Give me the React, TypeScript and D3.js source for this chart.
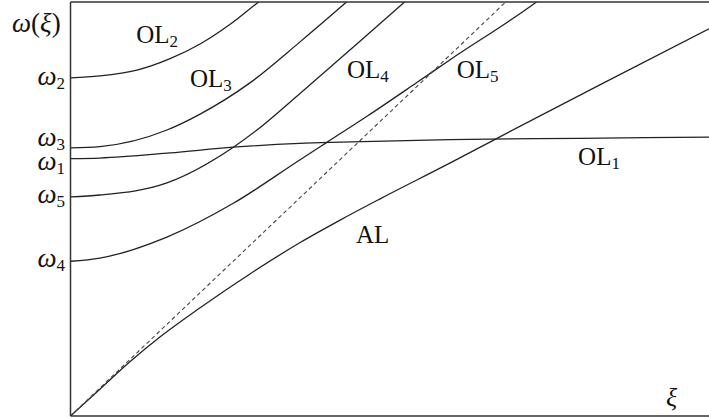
import React from 'react'
import * as d3 from 'd3'

// dispersion branches as [xi, omega]
const OL1 = [[0, 4.04], [0.46, 4.05], [1.56, 4.13], [2.55, 4.22], [3.59, 4.28], [4.23, 4.30], [5.94, 4.34], [7.98, 4.36], [10, 4.38]]
const OL2 = [[0, 5.31], [0.46, 5.34], [1.04, 5.43], [1.56, 5.61], [2.03, 5.84], [2.50, 6.15], [2.92, 6.48], [3.20, 6.69]]
const OL3 = [[0, 4.21], [0.46, 4.23], [1.51, 4.49], [2.03, 4.74], [2.81, 5.23], [3.59, 5.87], [4.30, 6.48], [4.54, 6.69]]
const OL4 = [[0, 2.43], [0.46, 2.48], [1.51, 2.81], [2.55, 3.34], [3.59, 4.02], [4.02, 4.30], [4.65, 4.71], [5.43, 5.24], [5.94, 5.59], [7.27, 6.48], [7.51, 6.66]]
const OL5 = [[0, 3.44], [0.46, 3.47], [1.51, 3.66], [2.55, 4.22], [2.92, 4.49], [3.59, 5.06], [4.38, 5.75], [5.21, 6.48], [5.48, 6.72]]
const AL = [[0, 0], [0.46, 0.42], [0.93, 0.85], [1.40, 1.24], [2.03, 1.70], [2.81, 2.23], [3.59, 2.72], [4.23, 3.08], [4.85, 3.41], [5.94, 3.97], [6.68, 4.36], [8.29, 5.20], [10, 6.08]]
const asymptote = [[0, 0], [6.9, 6.58]]

const solidCurves = [OL1, OL2, OL3, OL4, OL5, AL]

// cut-off frequencies on the left axis
const cutoffValues = [5.31, 4.21, 4.04, 3.44, 2.43]
const cutoffNames = ['2', '3', '1', '5', '4']
const cutoffShift = [7, -2, 11, 6, 6]

// curve labels: [xi, omega], name, subscript
const labelPos = [[1.03, 5.86], [1.87, 5.17], [4.33, 5.31], [6.05, 5.31], [7.95, 3.94], [4.47, 2.72]]
const labelNames = ['OL', 'OL', 'OL', 'OL', 'OL', 'AL']
const labelSubs = ['2', '3', '4', '5', '1', '']

const width = 709
const height = 418

export default function App() {
    const x = d3.scaleLinear().domain([0, 10]).range([70.5, 709])
    const y = d3.scaleLinear().domain([0, 6.5]).range([416, 2])

    const line = d3.line<number[]>()
        .x(d => x(d[0]))
        .y(d => y(d[1]))
        .curve(d3.curveMonotoneX)

    const [x0, x1] = x.range()
    const [y0, y1] = y.range()
    const font = '"Liberation Serif", "Times New Roman", serif'

    return (
        <svg width={width} height={height} style={{ position: 'absolute', left: 0, top: 0, background: '#fff' }}>
            <defs>
                <clipPath id="plot">
                    <rect x={x0} y={y1} width={x1 - x0} height={y0 - y1} />
                </clipPath>
            </defs>

            <g clipPath="url(#plot)" fill="none">
                {solidCurves.map((c, i) => (
                    <path key={i} d={line(c) || ''} stroke="#222" strokeWidth={1.3} />
                ))}
                <path d={d3.line<number[]>().x(d => x(d[0])).y(d => y(d[1]))(asymptote) || ''}
                    stroke="#444" strokeWidth={1.1} strokeDasharray="4,3" />
            </g>

            {/* frame: left, top, bottom */}
            <line x1={x0} x2={x0} y1={y1} y2={y0} stroke="#333" strokeWidth={1.5} />
            <line x1={x0} x2={x1} y1={y1} y2={y1} stroke="#333" strokeWidth={1.5} />
            <line x1={x0} x2={x1} y1={y0} y2={y0} stroke="#333" strokeWidth={1.5} />

            <g fontFamily={font} fill="#111">
                {cutoffValues.map((v, i) => (
                    <text key={i} x={65} y={y(v) + cutoffShift[i]} fontSize={27} textAnchor="end">
                        <tspan fontStyle="italic">ω</tspan>
                        <tspan fontSize={17} dy={4}>{cutoffNames[i]}</tspan>
                    </text>
                ))}

                {labelPos.map((p, i) => (
                    <text key={i} x={x(p[0])} y={y(p[1])} fontSize={25}>
                        {labelNames[i]}
                        {labelSubs[i] && <tspan fontSize={17} dy={4}>{labelSubs[i]}</tspan>}
                    </text>
                ))}

                <text x={12} y={32} fontSize={27}>
                    <tspan fontStyle="italic">ω</tspan>(<tspan fontStyle="italic">ξ</tspan>)
                </text>
                <text x={666} y={406} fontSize={26} fontStyle="italic">ξ</text>
            </g>
        </svg>
    )
}
